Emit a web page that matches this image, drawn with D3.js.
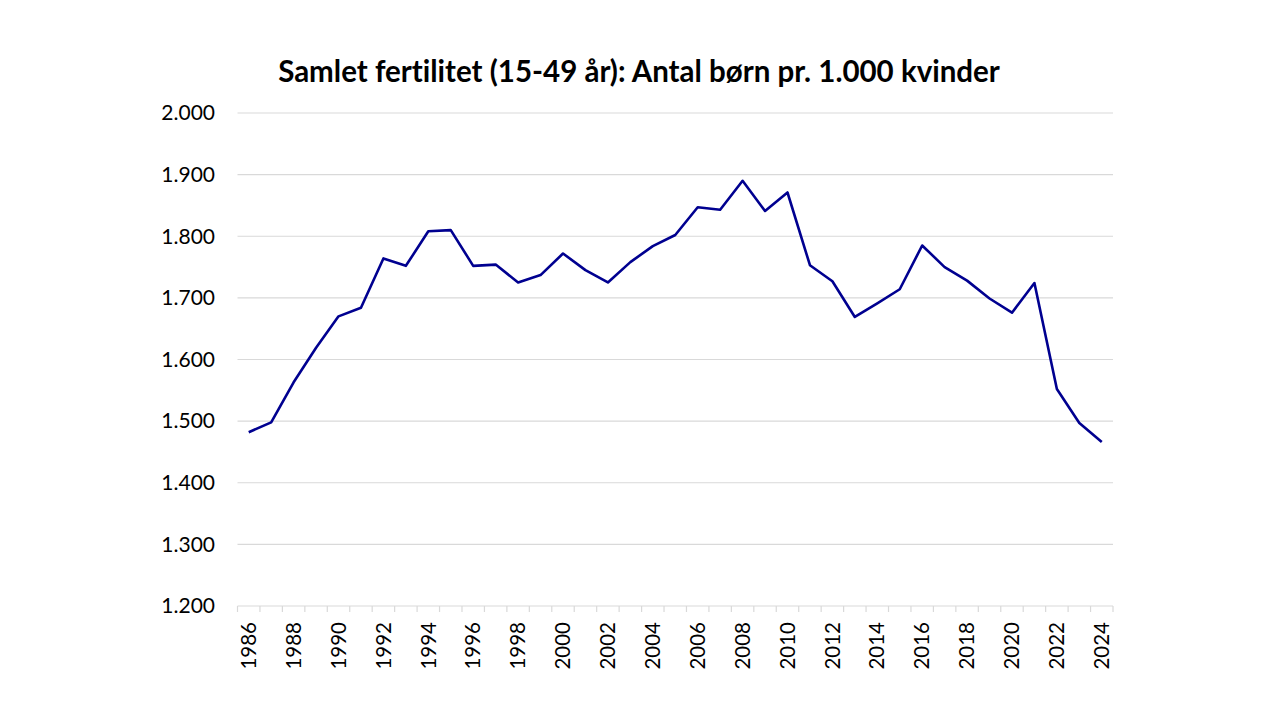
<!DOCTYPE html>
<html><head><meta charset="utf-8">
<script src="https://cdn.jsdelivr.net/npm/d3@7"></script>
<style>body{margin:0;background:#fff}svg{display:block}</style>
</head><body>
<svg id="c" width="1280" height="720"></svg>
<script>
const title = "Samlet fertilitet (15-49 år): Antal børn pr. 1.000 kvinder";
const years = d3.range(1986, 2025);
const values = [1482,1498,1563,1619,1670,1684,1764,1752,1808,1810,1752,1754,1725,1737,1772,1745,1725,1758,1784,1802,1847,1843,1890,1841,1871,1753,1727,1669,1691,1714,1785,1750,1728,1699,1676,1724,1552,1497,1466];
const yTicks = [1200,1300,1400,1500,1600,1700,1800,1900,2000];

const svg = d3.select("#c");
const font = "Lato, 'Open Sans', sans-serif";
const x = d3.scaleBand().domain(years).range([237.5, 1113]);
const y = d3.scaleLinear().domain([1200, 2000]).range([606, 113]);
const fmt = v => d3.format(",")(v).replace(",", ".");

svg.append("text").attr("x", 639).attr("y", 82).attr("text-anchor", "middle")
  .attr("font-family", font).attr("font-weight", "bold").attr("font-size", 29.5)
  .style("font-variant-ligatures", "none")
  .attr("fill", "#000").text(title);

// grid
svg.append("g").selectAll("line").data(yTicks.filter(t => t > 1200)).join("line")
  .attr("x1", 237.5).attr("x2", 1113).attr("y1", d => y(d)).attr("y2", d => y(d))
  .attr("stroke", "#d9d9d9").attr("stroke-width", 1.2);

// y labels
svg.append("g").selectAll("text").data(yTicks).join("text")
  .attr("x", 215).attr("y", d => y(d)).attr("dy", "0.35em").attr("text-anchor", "end")
  .attr("font-family", font).attr("font-size", 21).attr("fill", "#000").text(fmt);

// x axis
const xa = svg.append("g").attr("transform", "translate(0,606)");
xa.append("line").attr("x1", 237.5).attr("x2", 1113).attr("stroke", "#d9d9d9").attr("stroke-width", 1.2);
const edges = years.map(d => x(d)).concat([x(2024) + x.bandwidth()]);
xa.selectAll("line.t").data(edges).join("line").attr("class", "t")
  .attr("x1", d => d).attr("x2", d => d).attr("y1", 0).attr("y2", 6)
  .attr("stroke", "#d9d9d9").attr("stroke-width", 1.2);
xa.selectAll("text").data(years.filter(d => (d - 1986) % 2 === 0)).join("text")
  .attr("transform", d => `translate(${x(d) + x.bandwidth() / 2},16) rotate(-90)`)
  .attr("dy", "0.35em").attr("text-anchor", "end")
  .attr("font-family", font).attr("font-size", 20.5).attr("fill", "#000").text(d => d);

// line
const line = d3.line().x((d, i) => x(years[i]) + x.bandwidth() / 2).y(d => y(d));
svg.append("path").datum(values).attr("d", line).attr("fill", "none")
  .attr("stroke", "#000090").attr("stroke-width", 2.6).attr("stroke-linejoin", "round");
</script>
</body></html>
